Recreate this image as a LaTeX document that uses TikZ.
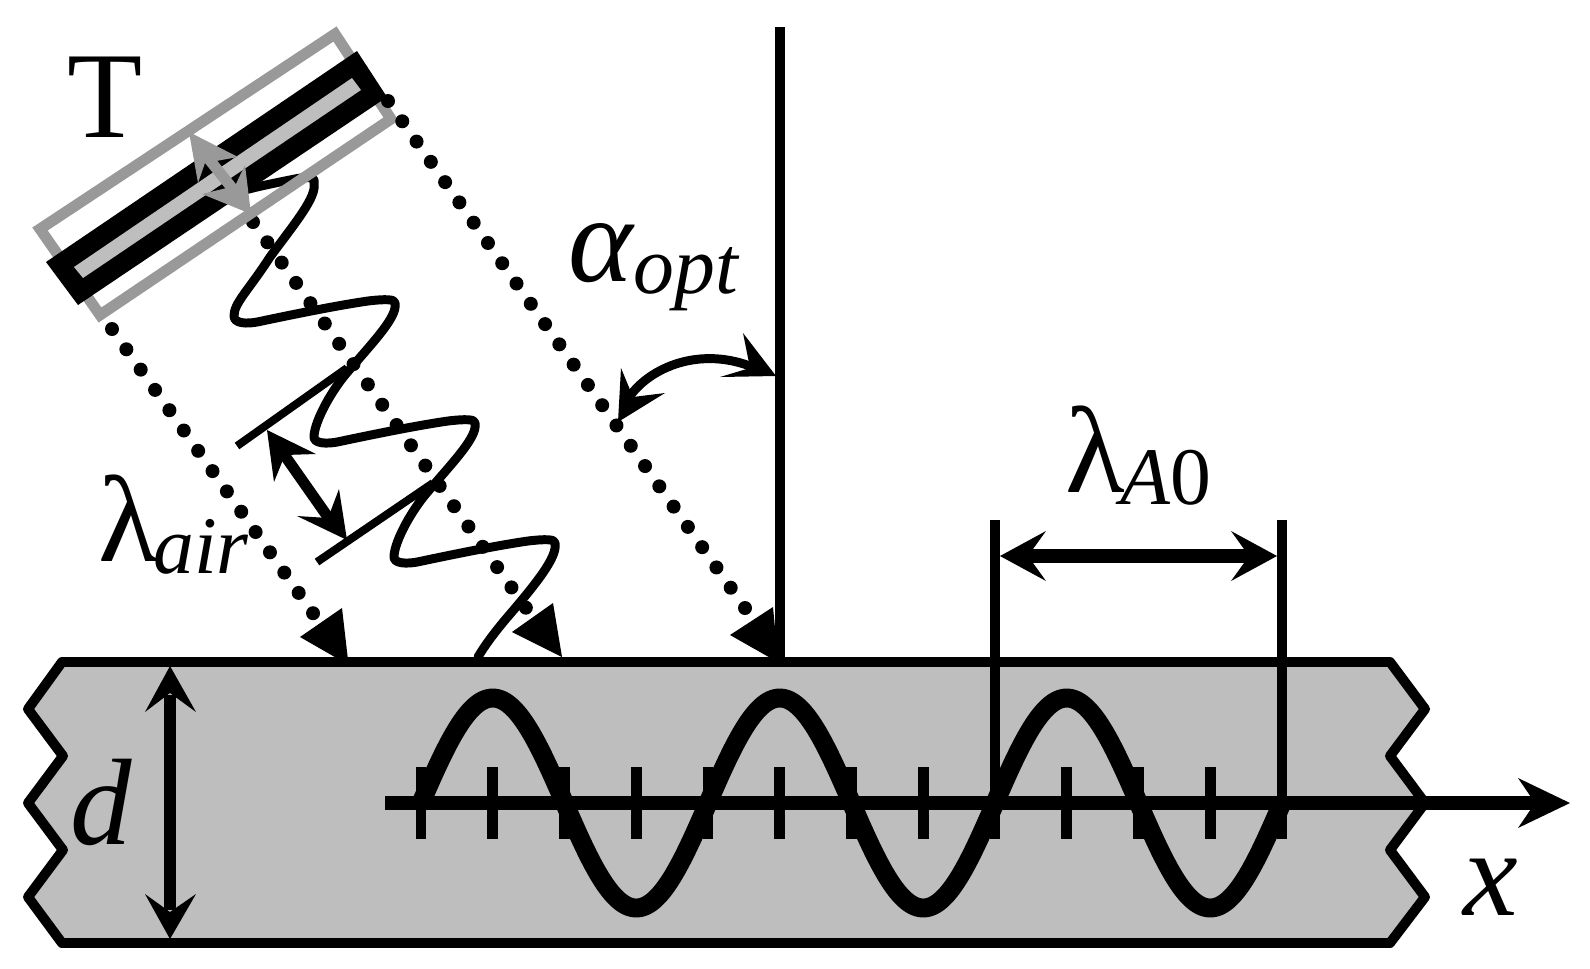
\documentclass[tikz,border=0pt]{standalone}
\usepackage{fontspec}
\setmainfont{Liberation Serif}
\newcommand{\mainsize}{\fontsize{70}{70}\selectfont}
\newcommand{\subsize}{\fontsize{46.5}{47}\selectfont}
\definecolor{slabgray}{HTML}{BEBEBE}
\definecolor{framegray}{HTML}{999999}
\tikzset{
  pxw/.style={line width=#1*0.5669pt},
  mainlabel/.style={anchor=base west,inner sep=0pt,font=\mainsize},
  sublabel/.style={anchor=base west,inner sep=0pt,font=\subsize\itshape},
  headfill/.style={fill=black,draw=none},
  dotfill/.style={fill=black,draw=none},
  thinline/.style={draw=black,pxw=10,line cap=butt,line join=miter},
  waveline/.style={draw=black,pxw=9,line cap=round,line join=round},
}
\begin{document}
\begin{tikzpicture}[x=0.02cm,y=-0.02cm]
\useasboundingbox (0,0) rectangle (1590,968);
% slab
\draw[fill=slabgray,draw=black,pxw=10,line join=round]
  (62,662) -- (1390,662) -- (1425,709) -- (1390,756) -- (1425,803) -- (1390,850) -- (1425,897) -- (1390,943)
  -- (62,943) -- (28,897) -- (63,850) -- (28,803) -- (63,756) -- (28,709) -- cycle;
% sine
\draw[black,pxw=19,line cap=butt,line join=round] plot[domain=0:3,samples=361] ({421+287*\x},{803-105*sin(360*\x)});
% ticks
\foreach \k in {0,...,12} \draw[black,pxw=11] ({421+71.75*\k},767) -- ({421+71.75*\k},839);
% axis
\coordinate (axS) at (385,803);
\coordinate (axE) at (1538,803);
\draw[black,pxw=14] (axS) -- (axE);
\fill[headfill] (1570,803) -- (1518,778) -- (1535,803) -- (1518,828) -- cycle;
% vertical lines
\draw[thinline] (780,27) -- (780,662);
\draw[thinline] (995,520) -- (995,803);
\draw[thinline] (1282,520) -- (1282,803);
% lambda A0 dimension
\draw[black,pxw=14] (1026,556) -- (1251,556);
\fill[headfill] (1000,556) -- (1046,531) -- (1028,556) -- (1046,581) -- cycle;
\fill[headfill] (1277,556) -- (1231,531) -- (1249,556) -- (1231,581) -- cycle;
% d arrow
\draw[black,pxw=13] (170,695) -- (170,910);
\fill[headfill] (170,666) -- (145,712) -- (170,693) -- (196,712) -- cycle;
\fill[headfill] (170,939) -- (145,894) -- (170,912) -- (196,894) -- cycle;
% dotted rays (middle and left under the frame)
\foreach \k in {0,...,19} \fill[dotfill] ({253+14.36*\k},{222+20.3*\k}) circle (7);
\foreach \k in {0,...,14} \fill[dotfill] ({112+14.36*\k},{329+20.3*\k}) circle (7);
% wave
\draw[waveline] (245,190) .. controls (260,186) and (275,183) .. (290,180)
  .. controls (308,176) and (316,177) .. (314,183)
  .. controls (317,197) and (295,223) .. (270,257)
  .. controls (248,291) and (234,303) .. (234,316)
  .. controls (234,323) and (245,325) .. (262,321)
  .. controls (300,313) and (340,305) .. (368,301)
  .. controls (385,299) and (395,299) .. (395,303)
  .. controls (398,317) and (372,343) .. (345,375)
  .. controls (328,396) and (314,424) .. (314,437)
  .. controls (314,443) and (325,445) .. (342,441)
  .. controls (380,433) and (420,425) .. (448,421)
  .. controls (465,419) and (475,419) .. (475,423)
  .. controls (478,437) and (452,463) .. (425,495)
  .. controls (408,516) and (394,544) .. (394,557)
  .. controls (394,563) and (405,565) .. (422,561)
  .. controls (460,553) and (500,545) .. (528,541)
  .. controls (545,539) and (555,539) .. (555,543)
  .. controls (558,557) and (535,585) .. (505,620)
  .. controls (495,632) and (485,645) .. (478,657);
% wavefronts
\draw[black,pxw=8] (237,446) -- (347,368);
\draw[black,pxw=8] (317,562) -- (433,483);
% lambda air arrow
\draw[black,pxw=11] (283,453) -- (330,520);
\fill[headfill] (267,430) -- (274,482) -- (285,455) -- (316,454) -- cycle;
\fill[headfill] (347,540) -- (339,489) -- (328,518) -- (297,516) -- cycle;
% sensor
\draw[framegray,pxw=11,line join=miter] (335,34) -- (391,119) -- (100,315) -- (40,229) -- cycle;
\fill[black] (357,51) -- (387,97) -- (78,305) -- (46,262) -- cycle;
\fill[slabgray] (352,78) -- (361,90) -- (83,278) -- (74,267) -- cycle;
% right dotted ray
\foreach \k in {0,...,25} \fill[dotfill] ({388+14.28*\k},{101+20.28*\k}) circle (7);
% ray arrowheads
\fill[headfill] (300,637) -- (342,608) -- (348,660) -- (340,660) -- cycle;
\fill[headfill] (562,657) -- (512,632) -- (553,603) -- cycle;
\fill[headfill] (730,635) -- (773,607) -- (778,660) -- (774,660) -- cycle;
% sensor polarisation arrow
\draw[framegray,pxw=11] (204,153) -- (236,193);
\fill[framegray] (189,132) -- (198,183) -- (205,163) -- (238,157) -- cycle;
\fill[framegray] (251,214) -- (245,165) -- (235,186) -- (202,194) -- cycle;
% angle arc
\draw[black,pxw=9] (630,396) .. controls (650,368) and (700,345) .. (755,368);
\fill[headfill] (776,376) -- (743,333) -- (750,368) -- (720,377) -- cycle;
\fill[headfill] (618,422) -- (621,368) -- (633,397) -- (665,393) -- cycle;
% labels
\node[mainlabel] (tl) at (67,137) {T};
\node[mainlabel] (dl) at (70,844) {\itshape d};
\node[mainlabel] (xl) at (1463,915) {\itshape x};
\node[mainlabel] (al) at (568,281) {\itshape α};
\node[sublabel] (as) at (633,293) {opt};
\node[mainlabel] (ll) at (98,561) {λ};
\node[sublabel] (ls) at (153,573) {air};
\node[mainlabel] (ml) at (1065,492) {λ};
\node[sublabel] (ms) at (1120,504) {A\upshape 0};
\end{tikzpicture}
\end{document}
